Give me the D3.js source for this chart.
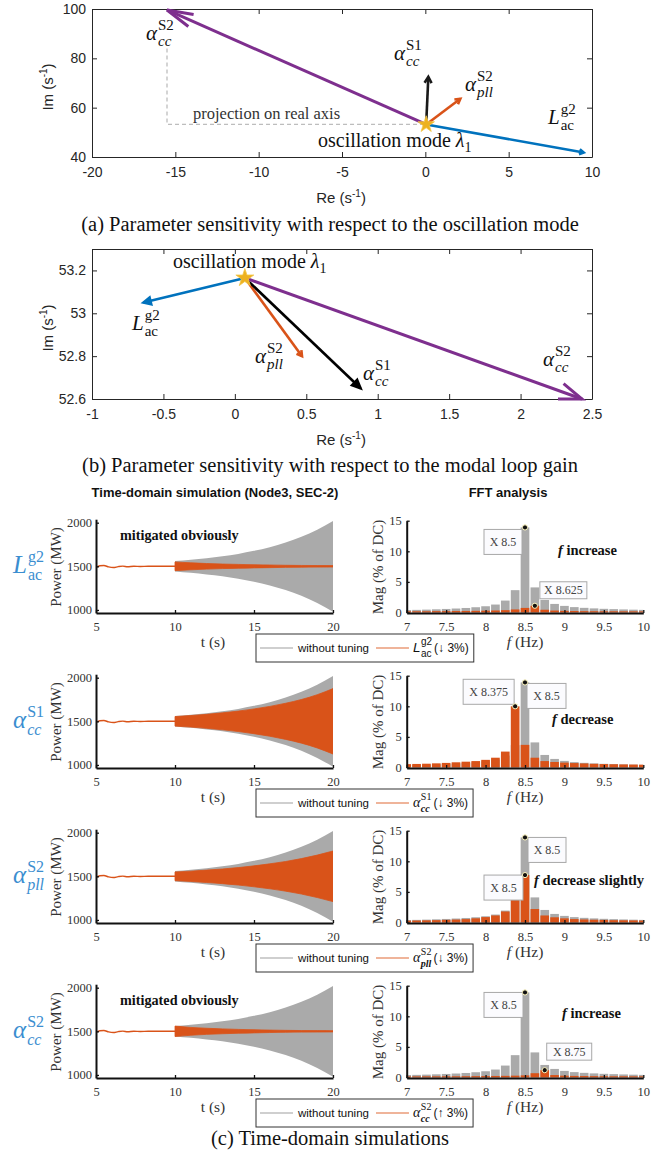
<!DOCTYPE html>
<html>
<head>
<meta charset="utf-8">
<script src="https://cdn.jsdelivr.net/npm/d3@7"></script>
<style>
body { margin: 0; background: #fff; }
</style>
</head>
<body>
<svg id="fig" width="670" height="1156"></svg>
<script>
// ---------- data ----------
// (a) sensitivity vectors, all starting at the oscillation mode
const modeA = [0.05, 53.2]
const tipsA = [[-15.5, 99.6], [0.18, 72.5], [2.1, 63.6], [9.5, 41.8]] // acc S2, acc S1, apll S2, Lac g2
const dashA = [[-15.5, 84], [-15.5, 53.2], [0.05, 53.2]]
const xTicksA = [-20, -15, -10, -5, 0, 5, 10]
const yTicksA = [40, 60, 80, 100]

// (b) sensitivity with respect to the modal loop gain
const modeB = [0.07, 53.165]
const tipsB = [[2.43, 52.6], [0.88, 52.65], [0.47, 52.8], [-0.64, 53.05]] // acc S2, acc S1, apll S2, Lac g2
const xTicksB = [-1, -0.5, 0, 0.5, 1, 1.5, 2, 2.5]
const yTicksB = [52.6, 52.8, 53, 53.2]

// (c) time domain: pre-disturbance trace and oscillation envelopes (MW around 1500)
const preT = [5, 5.25, 5.5, 5.8, 6.1, 6.4, 6.7, 7.0, 7.4, 7.8, 8.3, 9, 10]
const preP = [1488, 1506, 1510, 1493, 1486, 1496, 1502, 1495, 1501, 1498, 1500, 1500, 1500]
const envT = [10, 11, 12, 13, 14, 15, 16, 17, 18, 19, 20]
const envBase = [60, 75, 93, 114, 142, 177, 219, 272, 338, 420, 520]
const envTuned = [
  [50, 40, 32, 26, 22, 18, 15, 12, 10, 9, 8],
  [55, 66, 80, 97, 117, 142, 171, 207, 250, 305, 375],
  [50, 59, 71, 84, 100, 120, 143, 170, 203, 243, 290],
  [60, 45, 35, 28, 22, 18, 14, 11, 9, 8, 7]
]
const timeTicks = [5, 10, 15, 20]
const powerTicks = [1000, 1500, 2000]

// (c) FFT magnitudes (% of DC)
const fftFreq = [7, 7.125, 7.25, 7.375, 7.5, 7.625, 7.75, 7.875, 8, 8.125, 8.25, 8.375, 8.5,
  8.625, 8.75, 8.875, 9, 9.125, 9.25, 9.375, 9.5, 9.625, 9.75, 9.875, 10]
const fftBase = [0.4, 0.43, 0.47, 0.52, 0.58, 0.65, 0.74, 0.86, 1.02, 1.3, 1.95, 3.65, 13.9,
  4.1, 2.05, 1.4, 1.08, 0.88, 0.76, 0.67, 0.6, 0.55, 0.5, 0.46, 0.43]
const fftTuned = [
  [0.2, 0.2, 0.2, 0.22, 0.22, 0.24, 0.25, 0.27, 0.3, 0.33, 0.38, 0.5, 0.75, 1.1, 0.45, 0.32, 0.27, 0.24, 0.22, 0.21, 0.2, 0.2, 0.19, 0.19, 0.18],
  [0.55, 0.58, 0.62, 0.68, 0.75, 0.85, 0.95, 1.05, 1.25, 1.6, 2.6, 10.0, 3.7, 1.6, 1.05, 0.9, 0.8, 0.72, 0.66, 0.6, 0.56, 0.53, 0.5, 0.48, 0.46],
  [0.3, 0.32, 0.35, 0.38, 0.43, 0.48, 0.55, 0.68, 0.88, 1.15, 1.8, 5.0, 7.75, 2.2, 1.15, 0.85, 0.68, 0.56, 0.5, 0.45, 0.42, 0.38, 0.36, 0.34, 0.32],
  [0.18, 0.18, 0.19, 0.19, 0.2, 0.2, 0.21, 0.22, 0.23, 0.25, 0.27, 0.3, 0.35, 0.7, 1.2, 0.4, 0.3, 0.26, 0.24, 0.22, 0.21, 0.2, 0.2, 0.19, 0.19]
]
const freqTicks = [7, 7.5, 8, 8.5, 9, 9.5, 10]
const magTicks = [0, 5, 10, 15]
// data tips: [frequency, series] per row (series 0 = without tuning, 1 = tuned)
const tipPoints = [
  [[8.5, 0], [8.625, 1]],
  [[8.375, 1], [8.5, 0]],
  [[8.5, 0], [8.5, 1]],
  [[8.5, 0], [8.75, 1]]
]
const rowNotes = ['f increase', 'f decrease', 'f decrease slightly', 'f increase']

// ---------- styles ----------
const svg = d3.select('#fig')
const SANS = '"Liberation Sans", Arial, sans-serif'
const SERIF = '"Liberation Serif", "Times New Roman", serif'
const ink = '#262626'
const purple = '#7E2F8E', blue = '#0072BD', orange = '#D95319', yellow = '#EDB120'
const rowBlue = '#3b8ed0'
const gray = '#aaaaaa'
const fmt = d => String(d)

// base letter with stacked superscript / subscript, returns width
function mathText(g, x, y, p, o) {
  const base = g.append('text').attr('x', x).attr('y', y)
    .style('font-family', o.family).style('font-size', o.size + 'px')
    .style('font-style', p.baseItalic === false ? 'normal' : 'italic')
    .attr('fill', o.color).text(p.base)
  const sx = x + base.node().getComputedTextLength() + (o.gap || 1)
  const sup = g.append('text').attr('x', sx).attr('y', y - o.supUp)
    .style('font-family', o.family).style('font-size', o.small + 'px')
    .attr('fill', o.color).text(p.sup)
  const sub = g.append('text').attr('x', sx).attr('y', y + o.subDown)
    .style('font-family', o.family).style('font-size', o.small + 'px')
    .style('font-style', p.subItalic ? 'italic' : 'normal')
    .style('font-weight', o.subBold && p.subItalic ? 'bold' : 'normal')
    .attr('fill', o.color).text(p.sub)
  return sx - x + Math.max(sup.node().getComputedTextLength(), sub.node().getComputedTextLength())
}

function arrow(g, p0, p1, st) {
  g.append('line')
    .attr('x1', p0[0]).attr('y1', p0[1]).attr('x2', p1[0]).attr('y2', p1[1])
    .attr('stroke', st.color).attr('stroke-width', st.w)
  const th = Math.atan2(p0[1] - p1[1], p0[0] - p1[0])
  const a = st.ang * Math.PI / 180
  const h1 = [p1[0] + st.len * Math.cos(th + a), p1[1] + st.len * Math.sin(th + a)]
  const h2 = [p1[0] + st.len * Math.cos(th - a), p1[1] + st.len * Math.sin(th - a)]
  g.append('path')
    .attr('d', `M${h1}L${p1}L${h2}` + (st.fill ? 'Z' : ''))
    .attr('fill', st.fill ? st.color : 'none')
    .attr('stroke', st.color).attr('stroke-width', st.w)
}

const alphaLabels = {
  acc2: { base: 'α', sup: 'S2', sub: 'cc', subItalic: true },
  acc1: { base: 'α', sup: 'S1', sub: 'cc', subItalic: true },
  apll2: { base: 'α', sup: 'S2', sub: 'pll', subItalic: true },
  lac2: { base: 'L', sup: 'g2', sub: 'ac', subItalic: false }
}
const panelMath = { family: SERIF, size: 21, small: 15, color: '#111', supUp: 10, subDown: 6 }

// ---------- panels (a) and (b) ----------
function sensPanel(cfg) {
  const g = svg.append('g')
  const x = d3.scaleLinear().domain(cfg.xDomain).range([92, 592])
  const y = d3.scaleLinear().domain(cfg.yDomain).range([cfg.bottom, cfg.top])

  g.append('g').attr('transform', `translate(0,${cfg.bottom})`)
    .call(d3.axisBottom(x).tickValues(cfg.xTicks).tickSize(-5).tickSizeOuter(0).tickPadding(10).tickFormat(fmt))
  g.append('g').attr('transform', `translate(0,${cfg.top})`)
    .call(d3.axisTop(x).tickValues(cfg.xTicks).tickSize(-5).tickSizeOuter(0).tickFormat(''))
  g.append('g').attr('transform', 'translate(92,0)')
    .call(d3.axisLeft(y).tickValues(cfg.yTicks).tickSize(-5).tickSizeOuter(0).tickPadding(6).tickFormat(fmt))
  g.append('g').attr('transform', 'translate(592,0)')
    .call(d3.axisRight(y).tickValues(cfg.yTicks).tickSize(-5).tickSizeOuter(0).tickFormat(''))
  g.selectAll('.domain').attr('stroke', ink)
  g.selectAll('.tick line').attr('stroke', ink)
  g.selectAll('.tick text').style('font-family', SANS).style('font-size', '14px').attr('fill', ink)

  // axis titles
  const xl = g.append('text').attr('x', 341).attr('y', cfg.xLabelY).attr('text-anchor', 'middle')
    .style('font-family', SANS).style('font-size', '15px').attr('fill', ink).text('Re (s')
  xl.append('tspan').attr('dy', -6).style('font-size', '10px').text('-1')
  xl.append('tspan').attr('dy', 6).text(')')
  const yl = g.append('text').attr('transform', `translate(53,${(cfg.top + cfg.bottom) / 2 + 4}) rotate(-90)`)
    .attr('text-anchor', 'middle')
    .style('font-family', SANS).style('font-size', '15px').attr('fill', ink).text('Im (s')
  yl.append('tspan').attr('dy', -6).style('font-size', '10px').text('-1')
  yl.append('tspan').attr('dy', 6).text(')')

  if (cfg.dash) {
    g.append('path').attr('d', d3.line().x(d => x(d[0])).y(d => y(d[1]))(cfg.dash))
      .attr('fill', 'none').attr('stroke', '#bdbdbd').attr('stroke-width', 1.3).attr('stroke-dasharray', '4,3')
    g.append('text').attr('x', 193).attr('y', 119)
      .style('font-family', SERIF).style('font-size', '16.5px').attr('fill', '#333')
      .text('projection on real axis')
  }

  const p0 = [x(cfg.mode[0]), y(cfg.mode[1])]
  cfg.order.forEach(i => {
    arrow(g, p0, [x(cfg.tips[i][0]), y(cfg.tips[i][1])], cfg.arrowStyles[i])
  })

  g.append('path').attr('transform', `translate(${p0})`)
    .attr('d', d3.symbol(d3.symbolStar, cfg.starSize)())
    .attr('fill', yellow).attr('stroke', '#f2c64a').attr('stroke-width', 0.8)

  // mode label
  const ml = g.append('text').attr('x', cfg.modeLabel[0]).attr('y', cfg.modeLabel[1])
    .style('font-family', SERIF).style('font-size', '20px').attr('fill', '#111').text('oscillation mode ')
  ml.append('tspan').style('font-style', 'italic').text('λ')
  ml.append('tspan').attr('dy', 5).style('font-size', '14px').text('1')

  cfg.labels.forEach(l => mathText(g, l.x, l.y, alphaLabels[l.key], panelMath))

  g.append('text').attr('x', 330).attr('y', cfg.captionY).attr('text-anchor', 'middle')
    .style('font-family', SERIF).style('font-size', '20.5px').attr('fill', '#111').text(cfg.caption)
}

sensPanel({
  xDomain: [-20, 10], yDomain: [40, 100], top: 9, bottom: 157,
  xTicks: xTicksA, yTicks: yTicksA, xLabelY: 203,
  mode: modeA, tips: tipsA, dash: dashA, order: [0, 3, 1, 2],
  arrowStyles: [
    { color: purple, w: 3, len: 27, ang: 14 },
    { color: '#1a1a1a', w: 2.6, len: 7, ang: 30 },
    { color: orange, w: 2.6, len: 6, ang: 30 },
    { color: blue, w: 2.6, len: 5, ang: 30 }
  ],
  starSize: 85, modeLabel: [318, 147],
  labels: [
    { key: 'acc2', x: 146, y: 40 },
    { key: 'acc1', x: 394, y: 60 },
    { key: 'apll2', x: 465, y: 91 },
    { key: 'lac2', x: 548, y: 124 }
  ],
  caption: '(a) Parameter sensitivity with respect to the oscillation mode', captionY: 231
})

sensPanel({
  xDomain: [-1, 2.5], yDomain: [52.6, 53.3], top: 249, bottom: 399,
  xTicks: xTicksB, yTicks: yTicksB, xLabelY: 445,
  mode: modeB, tips: tipsB, order: [3, 2, 1, 0],
  arrowStyles: [
    { color: purple, w: 3, len: 24, ang: 20 },
    { color: '#000', w: 2.6, len: 9, ang: 24, fill: true },
    { color: orange, w: 2.6, len: 6, ang: 30 },
    { color: blue, w: 2.6, len: 8, ang: 26, fill: true }
  ],
  starSize: 100, modeLabel: [173, 268],
  labels: [
    { key: 'lac2', x: 132, y: 330 },
    { key: 'apll2', x: 255, y: 363 },
    { key: 'acc1', x: 363, y: 380 },
    { key: 'acc2', x: 543, y: 366 }
  ],
  caption: '(b) Parameter sensitivity with respect to the modal loop gain', captionY: 472
})

// ---------- panel (c) ----------
const ROW = 155
const xT = d3.scaleLinear().domain([5, 20]).range([96, 333])
const yT = d3.scaleLinear().domain([965, 2040]).range([613, 519.2])
const xF = d3.scaleLinear().domain([7, 10]).range([406.7, 643.3])
const yF = d3.scaleLinear().domain([0, 15]).range([612.5, 520.7])

const defs = svg.append('defs')
defs.append('clipPath').attr('id', 'clipT').append('rect')
  .attr('x', 96).attr('y', 519).attr('width', 237).attr('height', 94)
defs.append('clipPath').attr('id', 'clipF').append('rect')
  .attr('x', 406.7).attr('y', 515).attr('width', 236.6).attr('height', 98)

svg.append('text').attr('x', 215).attr('y', 497).attr('text-anchor', 'middle')
  .style('font-family', SANS).style('font-size', '13px').style('font-weight', 'bold').attr('fill', '#111')
  .text('Time-domain simulation (Node3, SEC-2)')
svg.append('text').attr('x', 508).attr('y', 497).attr('text-anchor', 'middle')
  .style('font-family', SANS).style('font-size', '13px').style('font-weight', 'bold').attr('fill', '#111')
  .text('FFT analysis')

const rowLabels = [alphaLabels.lac2, alphaLabels.acc1, alphaLabels.apll2, alphaLabels.acc2]
const changes = ['↓ 3%', '↓ 3%', '↓ 3%', '↑ 3%']
const tipBoxes = [
  [[-41, 2, 38, 25], [5, -24, 47, 17]],
  [[-52, -27, 51, 25], [2, 1, 39, 25]],
  [[3, 0, 38, 25], [-41, 0, 39, 25]],
  [[-41, 0, 39, 25], [2, -27, 45, 17]]
]
const notePos = [[558, 555], [552, 569], [534, 575], [562, 553]]

function styleAxis(sel) {
  sel.selectAll('.domain').attr('stroke', '#111').attr('stroke-width', 2)
  sel.selectAll('.tick line').attr('stroke', '#111').attr('stroke-width', 1.3)
  sel.selectAll('.tick text').style('font-family', SERIF).style('font-size', '12.5px').attr('fill', '#333')
}

for (let r = 0; r < 4; r++) {
  const g = svg.append('g').attr('transform', `translate(0,${r * ROW})`)

  // row label on the left
  mathText(g, 13, 573, rowLabels[r], { family: SERIF, size: 25, small: 16, color: rowBlue, supUp: 11, subDown: 7 })

  // time-domain traces
  const tg = g.append('g').attr('clip-path', 'url(#clipT)')
  const env = envs => d3.area()
    .x((d, i) => xT(envT[i]))
    .y0((d, i) => yT(1500 - envs[i]))
    .y1((d, i) => yT(1500 + envs[i]))
    .curve(d3.curveMonotoneX)(envT)
  tg.append('path').attr('d', env(envBase)).attr('fill', gray)
  tg.append('path').attr('d', env(envTuned[r])).attr('fill', orange)
    .attr('stroke', orange).attr('stroke-width', 0.8)
  tg.append('path')
    .attr('d', d3.line().x((d, i) => xT(preT[i])).y((d, i) => yT(preP[i])).curve(d3.curveMonotoneX)(preT))
    .attr('fill', 'none').attr('stroke', orange).attr('stroke-width', 1.4)

  const ax1 = g.append('g').attr('transform', 'translate(0,613)')
    .call(d3.axisBottom(xT).tickValues(timeTicks).tickSize(-3).tickSizeOuter(0).tickPadding(9).tickFormat(fmt))
  const ay1 = g.append('g').attr('transform', 'translate(96,0)')
    .call(d3.axisLeft(yT).tickValues(powerTicks).tickSize(-3).tickSizeOuter(0).tickPadding(4).tickFormat(fmt))
  styleAxis(ax1); styleAxis(ay1)

  g.append('text').attr('x', 213).attr('y', 647).attr('text-anchor', 'middle')
    .style('font-family', SERIF).style('font-size', '15.5px').attr('fill', '#333').text('t (s)')
  g.append('text').attr('transform', 'translate(61,567) rotate(-90)').attr('text-anchor', 'middle')
    .style('font-family', SERIF).style('font-size', '15px').attr('fill', '#333').text('Power (MW)')

  if (r === 0 || r === 3) {
    g.append('text').attr('x', 120).attr('y', 540)
      .style('font-family', SERIF).style('font-size', '14.2px').style('font-weight', 'bold').attr('fill', '#111')
      .text('mitigated obviously')
  }

  // legend
  const lg = g.append('g')
  const lx = 256, ly = 634
  lg.append('line').attr('x1', lx + 4).attr('x2', lx + 37).attr('y1', ly + 14).attr('y2', ly + 14)
    .attr('stroke', '#a0a0a0').attr('stroke-width', 1.2)
  const wt = lg.append('text').attr('x', lx + 42).attr('y', ly + 18)
    .style('font-family', SANS).style('font-size', '11.5px').attr('fill', '#111').text('without tuning')
  let cx = lx + 42 + wt.node().getComputedTextLength() + 7
  lg.append('line').attr('x1', cx).attr('x2', cx + 33).attr('y1', ly + 14).attr('y2', ly + 14)
    .attr('stroke', '#e06a36').attr('stroke-width', 1.2)
  cx += 37
  cx += mathText(lg, cx, ly + 18, rowLabels[r],
    { family: r === 0 ? SANS : SERIF, size: r === 0 ? 13.5 : 14, small: 10, color: '#111', supUp: 7, subDown: 5, subBold: true, gap: 0.5 })
  const ct = lg.append('text').attr('x', cx + 2).attr('y', ly + 18)
    .style('font-family', SANS).style('font-size', '12px').attr('fill', '#111').text(`(${changes[r]})`)
  cx += 2 + ct.node().getComputedTextLength()
  lg.insert('rect', ':first-child').attr('x', lx).attr('y', ly).attr('width', cx + 5 - lx).attr('height', 28)
    .attr('fill', '#fff').attr('stroke', '#333').attr('stroke-width', 1)

  // FFT bars
  const fg = g.append('g').attr('clip-path', 'url(#clipF)')
  const bw = xF(7.11) - xF(7)
  fg.selectAll('rect.base').data(fftBase).join('rect').attr('class', 'base')
    .attr('x', (d, i) => xF(fftFreq[i]) - bw / 2).attr('width', bw)
    .attr('y', d => yF(d)).attr('height', d => yF(0) - yF(d)).attr('fill', gray)
  fg.selectAll('rect.tuned').data(fftTuned[r]).join('rect').attr('class', 'tuned')
    .attr('x', (d, i) => xF(fftFreq[i]) - bw / 2).attr('width', bw)
    .attr('y', d => yF(d)).attr('height', d => yF(0) - yF(d)).attr('fill', orange)

  const ax2 = g.append('g').attr('transform', 'translate(0,613)')
    .call(d3.axisBottom(xF).tickValues(freqTicks).tickSize(-3).tickSizeOuter(0).tickPadding(9).tickFormat(fmt))
  const ay2 = g.append('g').attr('transform', 'translate(406.7,0)')
    .call(d3.axisLeft(yF).tickValues(magTicks).tickSize(-3).tickSizeOuter(0).tickPadding(5).tickFormat(fmt))
  styleAxis(ax2); styleAxis(ay2)

  const fl = g.append('text').attr('x', 525).attr('y', 647).attr('text-anchor', 'middle')
    .style('font-family', SERIF).style('font-size', '15.5px').attr('fill', '#333')
  fl.append('tspan').style('font-style', 'italic').text('f')
  fl.append('tspan').text(' (Hz)')
  g.append('text').attr('transform', 'translate(383,567) rotate(-90)').attr('text-anchor', 'middle')
    .style('font-family', SERIF).style('font-size', '15px').attr('fill', '#333').text('Mag (% of DC)')

  // data tips
  tipPoints[r].forEach((tp, k) => {
    const i = fftFreq.indexOf(tp[0])
    const v = tp[1] === 0 ? fftBase[i] : fftTuned[r][i]
    const px = xF(tp[0]), py = yF(v)
    const b = tipBoxes[r][k]
    g.append('rect').attr('x', px + b[0]).attr('y', py + b[1]).attr('width', b[2]).attr('height', b[3])
      .attr('fill', '#fbfbfe').attr('stroke', '#a8a8a8').attr('stroke-width', 1)
    g.append('text').attr('x', px + b[0] + b[2] / 2).attr('y', py + b[1] + b[3] / 2 + 4)
      .attr('text-anchor', 'middle')
      .style('font-family', SERIF).style('font-size', '12px').attr('fill', '#444')
      .text('X ' + tp[0])
    g.append('circle').attr('cx', px).attr('cy', py).attr('r', 2.6)
      .attr('fill', '#111').attr('stroke', '#fff7c0').attr('stroke-width', 1)
  })

  // frequency note
  const parts = rowNotes[r].split(' ')
  const nt = g.append('text').attr('x', notePos[r][0]).attr('y', notePos[r][1])
    .style('font-family', SERIF).style('font-size', '14.5px').style('font-weight', 'bold').attr('fill', '#111')
  nt.append('tspan').style('font-style', 'italic').text(parts[0])
  nt.append('tspan').text(' ' + parts.slice(1).join(' '))
}

svg.append('text').attr('x', 330).attr('y', 1145).attr('text-anchor', 'middle')
  .style('font-family', SERIF).style('font-size', '20.5px').attr('fill', '#111')
  .text('(c) Time-domain simulations')
</script>
</body>
</html>
